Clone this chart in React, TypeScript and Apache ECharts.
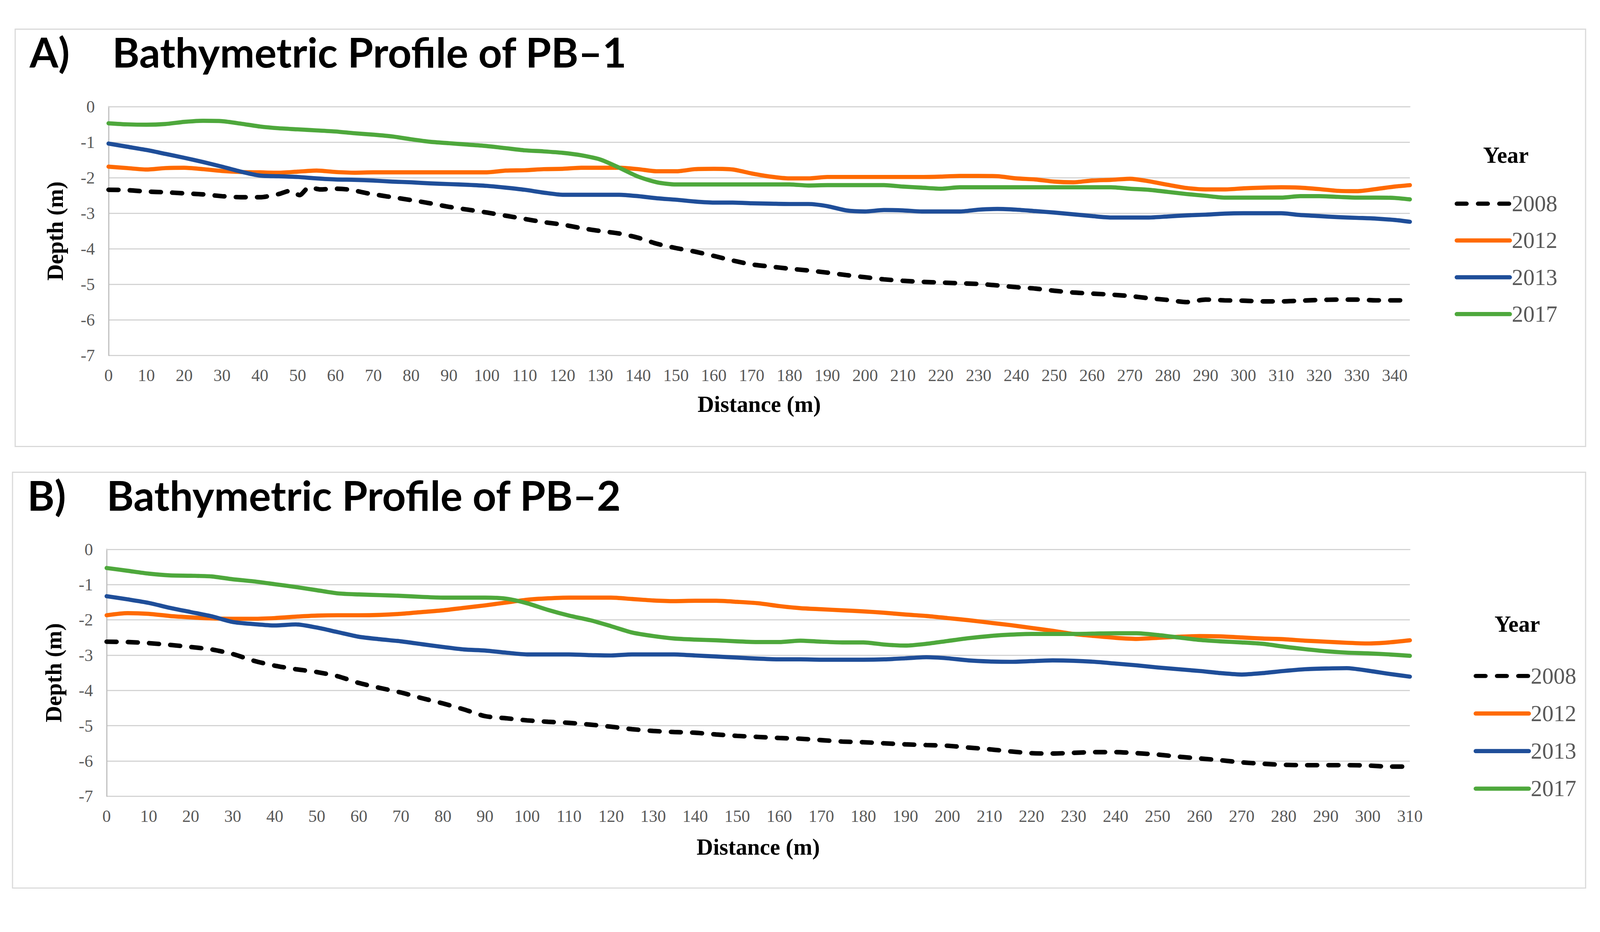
import React, { useEffect, useRef } from 'react';
import * as echarts from 'echarts';

// ---------- Panel A: PB-1 ----------
const distA = [0, 5, 10, 15, 20, 25, 30, 35, 40, 45, 50, 55, 60, 65, 70, 75, 80, 85, 90, 95, 100, 105, 110, 115, 120, 125, 130, 135, 140, 145, 150, 155, 160, 165, 170, 175, 180, 185, 190, 195, 200, 205, 210, 215, 220, 225, 230, 235, 240, 245, 250, 255, 260, 265, 270, 275, 280, 285, 290, 295, 300, 305, 310, 315, 320, 325, 330, 335, 340, 344];
const distA2008 = [0, 5, 10, 15, 20, 25, 30, 35, 40, 45, 48, 50.5, 53, 56, 60, 64, 68, 72, 75, 80, 85, 90, 95, 100, 105, 110, 115, 120, 125, 130, 135, 140, 145, 150, 155, 160, 165, 170, 175, 180, 185, 190, 195, 200, 205, 210, 215, 220, 225, 230, 235, 240, 245, 250, 255, 260, 265, 270, 275, 280, 285, 290, 295, 300, 305, 310, 315, 320, 325, 330, 335, 340, 344];
const depthA2008 = [-2.34, -2.35, -2.39, -2.41, -2.44, -2.47, -2.52, -2.55, -2.55, -2.46, -2.37, -2.49, -2.27, -2.33, -2.31, -2.34, -2.43, -2.50, -2.55, -2.63, -2.72, -2.82, -2.90, -2.98, -3.07, -3.16, -3.25, -3.32, -3.42, -3.50, -3.57, -3.69, -3.86, -3.98, -4.08, -4.20, -4.33, -4.44, -4.50, -4.56, -4.61, -4.67, -4.74, -4.80, -4.86, -4.90, -4.93, -4.95, -4.97, -4.99, -5.03, -5.08, -5.12, -5.18, -5.23, -5.26, -5.29, -5.33, -5.39, -5.44, -5.50, -5.43, -5.45, -5.46, -5.48, -5.48, -5.46, -5.44, -5.43, -5.43, -5.45, -5.45, -5.45];
const depthA2012 = [-1.69, -1.73, -1.77, -1.73, -1.72, -1.76, -1.81, -1.84, -1.85, -1.86, -1.83, -1.80, -1.84, -1.86, -1.85, -1.85, -1.85, -1.85, -1.85, -1.85, -1.85, -1.80, -1.79, -1.76, -1.75, -1.72, -1.72, -1.72, -1.76, -1.82, -1.82, -1.76, -1.75, -1.77, -1.88, -1.97, -2.02, -2.02, -1.98, -1.98, -1.98, -1.98, -1.98, -1.98, -1.97, -1.95, -1.95, -1.96, -2.02, -2.05, -2.11, -2.13, -2.08, -2.06, -2.03, -2.10, -2.20, -2.29, -2.33, -2.33, -2.30, -2.28, -2.27, -2.28, -2.32, -2.37, -2.38, -2.32, -2.25, -2.21];
const depthA2013 = [-1.04, -1.13, -1.22, -1.33, -1.44, -1.56, -1.69, -1.83, -1.94, -1.96, -1.98, -2.02, -2.05, -2.06, -2.08, -2.11, -2.13, -2.16, -2.18, -2.20, -2.23, -2.28, -2.34, -2.42, -2.48, -2.48, -2.48, -2.48, -2.52, -2.58, -2.62, -2.67, -2.70, -2.70, -2.72, -2.73, -2.74, -2.74, -2.80, -2.92, -2.95, -2.91, -2.92, -2.95, -2.95, -2.95, -2.90, -2.88, -2.90, -2.94, -2.98, -3.03, -3.08, -3.12, -3.12, -3.12, -3.09, -3.06, -3.04, -3.01, -3.00, -3.00, -3.00, -3.05, -3.08, -3.11, -3.13, -3.15, -3.19, -3.24];
const depthA2017 = [-0.47, -0.50, -0.51, -0.49, -0.43, -0.40, -0.41, -0.48, -0.56, -0.61, -0.64, -0.67, -0.70, -0.75, -0.79, -0.84, -0.92, -0.99, -1.03, -1.07, -1.11, -1.17, -1.23, -1.26, -1.30, -1.37, -1.49, -1.72, -1.97, -2.13, -2.19, -2.19, -2.19, -2.19, -2.19, -2.19, -2.19, -2.22, -2.21, -2.21, -2.21, -2.21, -2.25, -2.28, -2.31, -2.27, -2.27, -2.27, -2.27, -2.27, -2.27, -2.27, -2.27, -2.27, -2.31, -2.34, -2.40, -2.46, -2.51, -2.56, -2.56, -2.56, -2.56, -2.52, -2.52, -2.54, -2.56, -2.56, -2.57, -2.61];

// ---------- Panel B: PB-2 ----------
const distB = [0, 5, 10, 15, 20, 25, 30, 35, 40, 45, 50, 55, 60, 65, 70, 75, 80, 85, 90, 95, 100, 105, 110, 115, 120, 125, 130, 135, 140, 145, 150, 155, 160, 165, 170, 175, 180, 185, 190, 195, 200, 205, 210, 215, 220, 225, 230, 235, 240, 245, 250, 255, 260, 265, 270, 275, 280, 285, 290, 295, 300, 305, 310];
const depthB2008 = [-2.62, -2.63, -2.66, -2.71, -2.77, -2.84, -2.97, -3.16, -3.30, -3.40, -3.48, -3.60, -3.79, -3.93, -4.06, -4.22, -4.37, -4.54, -4.73, -4.79, -4.85, -4.89, -4.92, -4.97, -5.03, -5.10, -5.15, -5.18, -5.20, -5.25, -5.29, -5.32, -5.35, -5.37, -5.41, -5.45, -5.47, -5.50, -5.53, -5.55, -5.57, -5.62, -5.67, -5.73, -5.78, -5.79, -5.77, -5.75, -5.75, -5.78, -5.82, -5.88, -5.93, -5.98, -6.04, -6.08, -6.11, -6.12, -6.12, -6.12, -6.13, -6.16, -6.16];
const depthB2012 = [-1.87, -1.81, -1.83, -1.89, -1.93, -1.96, -1.97, -1.97, -1.95, -1.91, -1.88, -1.87, -1.87, -1.86, -1.83, -1.78, -1.73, -1.66, -1.59, -1.51, -1.43, -1.39, -1.37, -1.37, -1.37, -1.41, -1.45, -1.47, -1.46, -1.46, -1.49, -1.53, -1.61, -1.67, -1.70, -1.73, -1.76, -1.80, -1.85, -1.89, -1.95, -2.01, -2.08, -2.15, -2.23, -2.31, -2.40, -2.46, -2.51, -2.54, -2.51, -2.48, -2.46, -2.47, -2.50, -2.53, -2.55, -2.59, -2.62, -2.65, -2.67, -2.64, -2.58];
const depthB2013 = [-1.33, -1.42, -1.52, -1.66, -1.78, -1.90, -2.06, -2.12, -2.16, -2.13, -2.22, -2.35, -2.48, -2.55, -2.61, -2.69, -2.77, -2.84, -2.87, -2.93, -2.98, -2.98, -2.98, -3.00, -3.01, -2.98, -2.98, -2.98, -3.01, -3.04, -3.07, -3.10, -3.12, -3.12, -3.13, -3.13, -3.13, -3.12, -3.09, -3.06, -3.09, -3.15, -3.18, -3.19, -3.17, -3.15, -3.16, -3.19, -3.24, -3.29, -3.35, -3.40, -3.45, -3.51, -3.55, -3.51, -3.45, -3.40, -3.38, -3.37, -3.44, -3.53, -3.61];
const depthB2017 = [-0.53, -0.61, -0.69, -0.74, -0.75, -0.77, -0.85, -0.91, -0.99, -1.07, -1.16, -1.25, -1.28, -1.30, -1.32, -1.35, -1.37, -1.37, -1.37, -1.40, -1.53, -1.72, -1.88, -2.01, -2.18, -2.36, -2.46, -2.53, -2.56, -2.58, -2.61, -2.63, -2.63, -2.59, -2.62, -2.64, -2.64, -2.70, -2.73, -2.68, -2.60, -2.52, -2.46, -2.42, -2.40, -2.40, -2.40, -2.39, -2.38, -2.38, -2.43, -2.50, -2.57, -2.61, -2.64, -2.68, -2.76, -2.83, -2.89, -2.93, -2.95, -2.98, -3.02];

const years = ['2008', '2012', '2013', '2017'];
const yearColors = ['#000000', '#ff6a00', '#1f4e99', '#4ea83c'];
const titleA = 'Bathymetric Profile of PB\u20131';
const titleB = 'Bathymetric Profile of PB\u20132';

const pairs = (xs: number[], ys: number[]) => xs.map((x, i) => [x, ys[i]]);

const SERIF = '"Liberation Serif", "Times New Roman", serif';
const SANS = 'Lato, "Open Sans", sans-serif';

function buildOption(s: number) {
  const S = (v: number) => v * s;

  const makeSeries = (idx: number, sets: number[][][]) =>
    sets.map((d, i) => ({
      name: years[i],
      type: 'line',
      xAxisIndex: idx,
      yAxisIndex: idx,
      data: d,
      symbol: 'none',
      smooth: 0.25,
      z: 2 + i,
      lineStyle: i === 0
        ? { color: yearColors[i], width: S(12), type: [S(26), S(30)], cap: 'round' }
        : { color: yearColors[i], width: S(11), cap: 'round', join: 'round' },
      itemStyle: { color: yearColors[i] },
    }));

  const xAxisFor = (idx: number, max: number, gap: number) => ({
    type: 'value',
    gridIndex: idx,
    min: 0,
    max,
    interval: 10,
    name: 'Distance (m)',
    nameLocation: 'middle',
    nameGap: S(gap),
    nameTextStyle: { fontFamily: SERIF, fontWeight: 'bold', fontSize: S(60), color: '#000' },
    axisLine: { show: true, lineStyle: { color: '#d4d4d4', width: S(3) } },
    axisTick: { show: false },
    splitLine: { show: false },
    axisLabel: {
      fontFamily: SERIF,
      fontSize: S(45),
      color: '#595959',
      margin: S(30),
      formatter: (v: number) => (v % 10 === 0 ? String(v) : ''),
    },
  });

  const yAxisFor = (idx: number) => ({
    type: 'value',
    gridIndex: idx,
    min: -7,
    max: 0,
    interval: 1,
    name: 'Depth (m)',
    nameLocation: 'middle',
    nameGap: S(110),
    nameRotate: 90,
    nameTextStyle: { fontFamily: SERIF, fontWeight: 'bold', fontSize: S(60), color: '#000' },
    axisLine: { show: true, lineStyle: { color: '#bfbfbf', width: S(3) } },
    axisTick: { show: false },
    splitLine: { show: true, lineStyle: { color: '#d4d4d4', width: S(3) } },
    axisLabel: { fontFamily: SERIF, fontSize: S(45), color: '#595959', margin: S(36) },
  });

  const legendAt = (left: number, top: number, gap: number) => ({
    orient: 'vertical',
    left: S(left),
    top: S(top),
    padding: 0,
    itemWidth: S(140),
    itemHeight: S(20),
    itemGap: S(gap),
    selectedMode: false,
    data: years,
    itemStyle: { opacity: 0 },
    lineStyle: { width: S(11), cap: 'round' },
    textStyle: { fontFamily: SERIF, fontSize: S(60), lineHeight: S(60), color: '#595959' },
  });

  const txt = (x: number, y: number, text: string, font: string, align = 'left') => ({
    type: 'text',
    x: S(x),
    y: S(y),
    style: { text, font, fill: '#000', align, verticalAlign: 'middle' },
  });

  const titleFont = `bold ${S(109)}px ${SANS}`;
  const yearFont = `bold ${S(60)}px ${SERIF}`;

  return {
    animation: false,
    backgroundColor: '#ffffff',
    grid: [
      { left: S(286), top: S(281), width: S(3429), height: S(656), containLabel: false },
      { left: S(281), top: S(1448), width: S(3434), height: S(651), containLabel: false },
    ],
    xAxis: [xAxisFor(0, 344, 99), xAxisFor(1, 310, 104)],
    yAxis: [yAxisFor(0), yAxisFor(1)],
    legend: [legendAt(3833, 507, 37), legendAt(3883, 1752, 39)],
    series: [
      ...makeSeries(0, [
        pairs(distA2008, depthA2008),
        pairs(distA, depthA2012),
        pairs(distA, depthA2013),
        pairs(distA, depthA2017),
      ]),
      ...makeSeries(1, [
        pairs(distB, depthB2008),
        pairs(distB, depthB2012),
        pairs(distB, depthB2013),
        pairs(distB, depthB2017),
      ]),
    ],
    graphic: [
      { type: 'rect', shape: { x: S(40), y: S(77), width: S(4138), height: S(1100) }, style: { fill: 'none', stroke: '#d9d9d9', lineWidth: S(3) }, z: -1 },
      { type: 'rect', shape: { x: S(33), y: S(1245), width: S(4145), height: S(1096) }, style: { fill: 'none', stroke: '#d9d9d9', lineWidth: S(3) }, z: -1 },
      txt(78, 136, 'A)', titleFont),
      txt(296, 136, titleA, titleFont),
      txt(72, 1304, 'B)', titleFont),
      txt(281, 1304, titleB, titleFont),
      txt(3968, 409, 'Year', yearFont, 'center'),
      txt(3998, 1645, 'Year', yearFont, 'center'),
    ],
  };
}

export default function App() {
  const ref = useRef<HTMLDivElement>(null);
  useEffect(() => {
    const s = Math.min(window.innerWidth / 4216, window.innerHeight / 2387);
    const el = ref.current!;
    el.style.width = `${4216 * s}px`;
    el.style.height = `${2387 * s}px`;
    const chart = echarts.init(el, null, { renderer: 'svg' });
    chart.setOption(buildOption(s) as any);
    return () => chart.dispose();
  }, []);
  return (
    <div
      ref={ref}
      style={{ position: 'fixed', left: 0, top: 0, width: '100vw', height: '100vh', background: '#fff' }}
    />
  );
}
